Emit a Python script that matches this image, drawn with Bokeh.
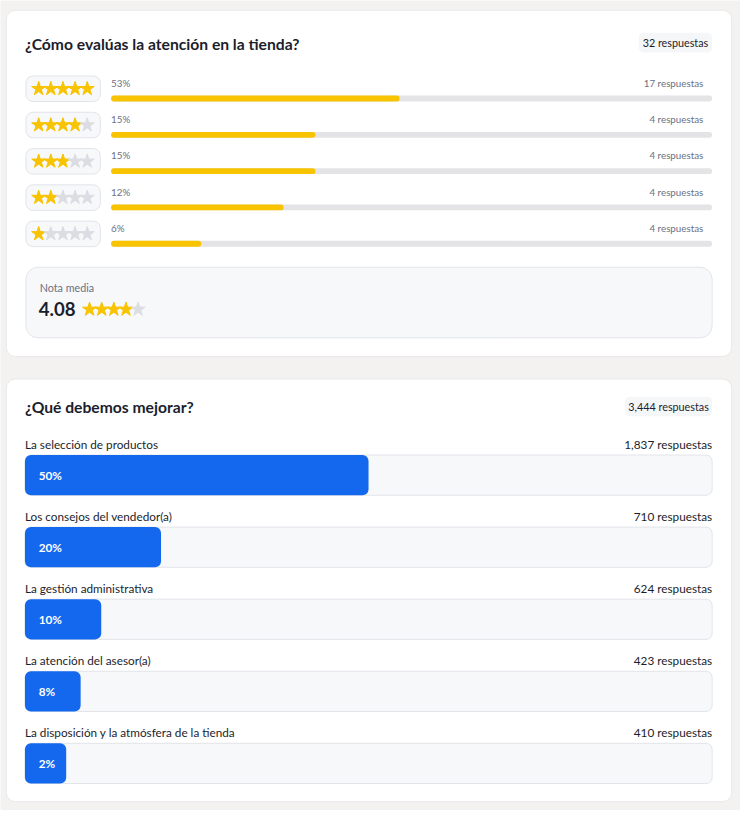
from bokeh.plotting import figure
from bokeh.models import Range1d
from bokeh.core.properties import value
from bokeh.embed import file_html
from bokeh.resources import INLINE

# ---------------- data ----------------
rating_title = "¿Cómo evalúas la atención en la tienda?"
rating_total = 32
rating_stars = [5, 4, 3, 2, 1]
rating_pct = [53, 15, 15, 12, 6]
rating_counts = [17, 4, 4, 4, 4]
rating_bar_share = [0.48, 0.34, 0.34, 0.287, 0.15]
mean_label = "Nota media"
mean_score = 4.08

improve_title = "¿Qué debemos mejorar?"
improve_total = 3444
improve_labels = [
    "La selección de productos",
    "Los consejos del vendedor(a)",
    "La gestión administrativa",
    "La atención del asesor(a)",
    "La disposición y la atmósfera de la tienda",
]
improve_counts = [1837, 710, 624, 423, 410]
improve_pct = [50, 20, 10, 8, 2]
improve_bar_share = [0.50, 0.198, 0.111, 0.081, 0.06]

# ---------------- style ----------------
FONT = value("Lato")
DARK = "#1b1e2c"
GRAY = "#6b7082"
YELLOW = "#f8c300"
EMPTY = "#dcdde2"
TRACK = "#e4e4e7"
PANEL = "#f7f8fa"
PANEL_LINE = "#e2e4e8"
BLUE = "#1368ee"
BG = "#f3f2f1"
S = 740 / 756  # screen scale of the figure

p = figure(width=740, height=810, x_range=Range1d(0, 756), y_range=Range1d(826, 0),
           output_backend="svg", toolbar_location=None, min_border=0)
p.xaxis.visible = False
p.yaxis.visible = False
p.grid.visible = False
p.outline_line_color = None
p.background_fill_color = BG
p.border_fill_color = BG

# cards
p.quad(left=[6, 6], right=[747, 747], top=[10, 386], bottom=[363, 817],
       fill_color="white", line_color="#e8e9ec", border_radius=9)


def fs(px):
    return f"{px * S:.2f}px"


def txt(x, y, s, size, color, align="left", bold=False):
    p.text(x=[x], y=[y], text=[s], text_font=FONT, text_font_size=fs(size),
           text_color=color, text_align=align, text_baseline="middle",
           text_font_style="bold" if bold else "normal")


def badge(x0, x1, y, s):
    p.quad(left=[x0], right=[x1], top=[y - 10], bottom=[y + 10],
           fill_color="#f5f6f8", line_color=None, border_radius=5)
    txt((x0 + x1) / 2, y, s, 11, DARK, align="center")


# ---- card 1 ----
txt(25, 44, rating_title, 16, DARK, bold=True)
badge(652, 727, 43, f"{rating_total} respuestas")

row_y = [90 + 37 * i for i in range(len(rating_stars))]
p.quad(left=[26] * 5, right=[102] * 5, top=[y - 13 for y in row_y],
       bottom=[y + 13 for y in row_y], fill_color=PANEL, line_color=PANEL_LINE,
       border_radius=7)
sx, sy, sc = [], [], []
for y, n in zip(row_y, rating_stars):
    for j in range(5):
        sx.append(39 + 12.4 * j)
        sy.append(y)
        sc.append(YELLOW if j < n else EMPTY)
p.scatter(x=sx, y=sy, marker="star", size=15 * S, fill_color=sc, line_color=sc)

track_l, track_r = 113, 727
p.hbar(y=[y + 10 for y in row_y], left=track_l, right=track_r, height=6,
       fill_color=TRACK, line_color=None, border_radius=3)
p.hbar(y=[y + 10 for y in row_y], left=track_l,
       right=[track_l + s * (track_r - track_l) for s in rating_bar_share], height=6,
       fill_color=YELLOW, line_color=None, border_radius=3)
for y, pc, c in zip(row_y, rating_pct, rating_counts):
    txt(track_l, y - 6, f"{pc}%", 10, GRAY)
    txt(718, y - 6, f"{c} respuestas", 10, GRAY, align="right")

# mean panel
p.quad(left=[26], right=[727], top=[272], bottom=[344], fill_color=PANEL,
       line_color=PANEL_LINE, border_radius=12)
txt(40, 293, mean_label, 11, GRAY)
txt(39, 315, f"{mean_score:.2f}", 19, DARK, bold=True)
mx = [91 + 12.4 * j for j in range(5)]
mc = [YELLOW if j < int(mean_score) else EMPTY for j in range(5)]
p.scatter(x=mx, y=[315] * 5, marker="star", size=15 * S, fill_color=mc, line_color=mc)

# ---- card 2 ----
txt(25, 415, improve_title, 16, DARK, bold=True)
badge(638, 727, 414, f"{improve_total:,} respuestas")

bar_l, bar_r = 25, 727
bar_y = [484 + 73.5 * i for i in range(len(improve_labels))]
p.hbar(y=bar_y, left=bar_l, right=bar_r, height=41, fill_color=PANEL,
       line_color=PANEL_LINE, border_radius=6)
p.hbar(y=bar_y, left=bar_l,
       right=[bar_l + s * (bar_r - bar_l) for s in improve_bar_share], height=41,
       fill_color=BLUE, line_color=None, border_radius=6)
for y, lab, c, pc in zip(bar_y, improve_labels, improve_counts, improve_pct):
    txt(25, y - 31.5, lab, 12, DARK)
    txt(727, y - 31.5, f"{c:,} respuestas", 12, DARK, align="right")
    txt(39, y, f"{pc}%", 12, "white", bold=True)

open("out.html", "w").write(file_html(p, INLINE))
